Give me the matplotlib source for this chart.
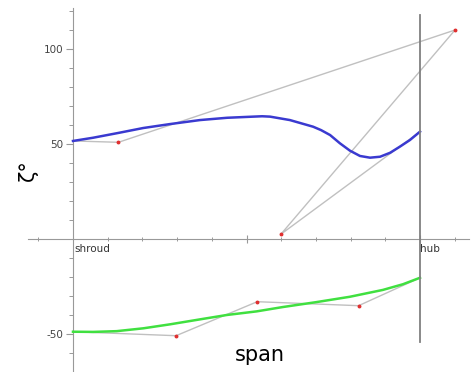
import numpy as np
import matplotlib.pyplot as plt
from matplotlib.ticker import MultipleLocator, FixedLocator

plt.rcParams['axes.unicode_minus'] = False

# zeta curve (blue)
zeta_span = [0.0, 0.058, 0.130, 0.202, 0.280, 0.366, 0.444, 0.519, 0.545, 0.568,
             0.625, 0.692, 0.715, 0.741, 0.769, 0.798, 0.827, 0.856, 0.885,
             0.914, 0.942, 0.971, 1.0]
zeta_val = [51.6, 53.3, 55.8, 58.4, 60.5, 62.6, 63.8, 64.4, 64.6, 64.4,
            62.6, 59.1, 57.3, 54.7, 50.4, 46.5, 43.7, 42.8, 43.3,
            45.4, 48.6, 52.1, 56.5]
# control polygon of zeta
zeta_ctrl_x = [0.0, 0.131, 1.101, 0.599, 1.0]
zeta_ctrl_y = [51.6, 50.9, 110.0, 2.5, 56.5]

# second curve (green)
low_span = [0.0, 0.058, 0.126, 0.203, 0.280, 0.366, 0.443, 0.529, 0.605, 0.702,
            0.798, 0.893, 0.951, 1.0]
low_val = [-48.8, -48.9, -48.5, -47.0, -44.9, -42.3, -40.0, -38.1, -35.8, -33.2,
           -30.4, -26.8, -23.8, -20.4]
low_ctrl_x = [0.0, 0.297, 0.531, 0.823, 1.0]
low_ctrl_y = [-48.8, -50.9, -33.0, -35.1, -20.4]

fig = plt.figure(figsize=(4.75, 3.72), dpi=100)
ax = fig.add_axes([0, 0, 1, 1])
ax.set_xlim(-73 / 347, (475 - 73) / 347)
ax.set_ylim(-70, 239 / 1.9)

# control polygons
ax.plot(zeta_ctrl_x, zeta_ctrl_y, color='#c0c0c0', lw=1, zorder=2)
ax.plot(low_ctrl_x, low_ctrl_y, color='#c0c0c0', lw=1, zorder=2)
ax.plot(zeta_ctrl_x[1:-1], zeta_ctrl_y[1:-1], 'o', color='#e03030', ms=1.8, zorder=3)
ax.plot(low_ctrl_x[1:-1], low_ctrl_y[1:-1], 'o', color='#e03030', ms=1.8, zorder=3)

# curves
ax.plot(zeta_span, zeta_val, color='#3a3ad0', lw=1.8, zorder=4)
ax.plot(low_span, low_val, color='#40e040', lw=1.8, zorder=4)

# hub line
ax.plot([1, 1], [117.9, -54.2], color='#808080', lw=1.3, zorder=5)

# axes through the origin
for s in ['top', 'right']:
    ax.spines[s].set_visible(False)
ax.spines['left'].set_position(('data', 0))
ax.spines['bottom'].set_position(('data', 0))
ax.spines['left'].set_bounds(-70, 121.6)
ax.spines['bottom'].set_bounds(-0.13, 1.14)
for s in ['left', 'bottom']:
    ax.spines[s].set_color('#999999')
    ax.spines[s].set_linewidth(0.8)

ax.set_yticks([-50, 50, 100])
ax.yaxis.set_minor_locator(MultipleLocator(10))
ax.set_xticks([0.5, 1.0])
ax.set_xticklabels([])
ax.xaxis.set_minor_locator(FixedLocator([i / 10 for i in range(-1, 12)]))
ax.tick_params(axis='y', which='major', direction='out', length=5, width=0.8,
               color='#999999', labelcolor='#444444', labelsize=7.5, pad=2)
ax.tick_params(axis='y', which='minor', direction='out', length=3, width=0.7,
               color='#999999')
ax.tick_params(axis='x', which='major', direction='inout', length=6, width=0.8,
               color='#999999')
ax.tick_params(axis='x', which='minor', direction='inout', length=3, width=0.7,
               color='#999999')

ax.text(0.005, -2.5, 'shroud', fontsize=7.5, color='#333333', ha='left', va='top')
ax.text(1.0, -2.5, 'hub', fontsize=7.5, color='#333333', ha='left', va='top')

fig.text(260 / 475, 1 - 355 / 372, 'span', fontsize=15, ha='center', va='center')
fig.text(28 / 475, 1 - 170 / 372, 'ζ°', fontsize=15, rotation=90,
         ha='center', va='center')

fig.savefig('out.png', dpi=100)
